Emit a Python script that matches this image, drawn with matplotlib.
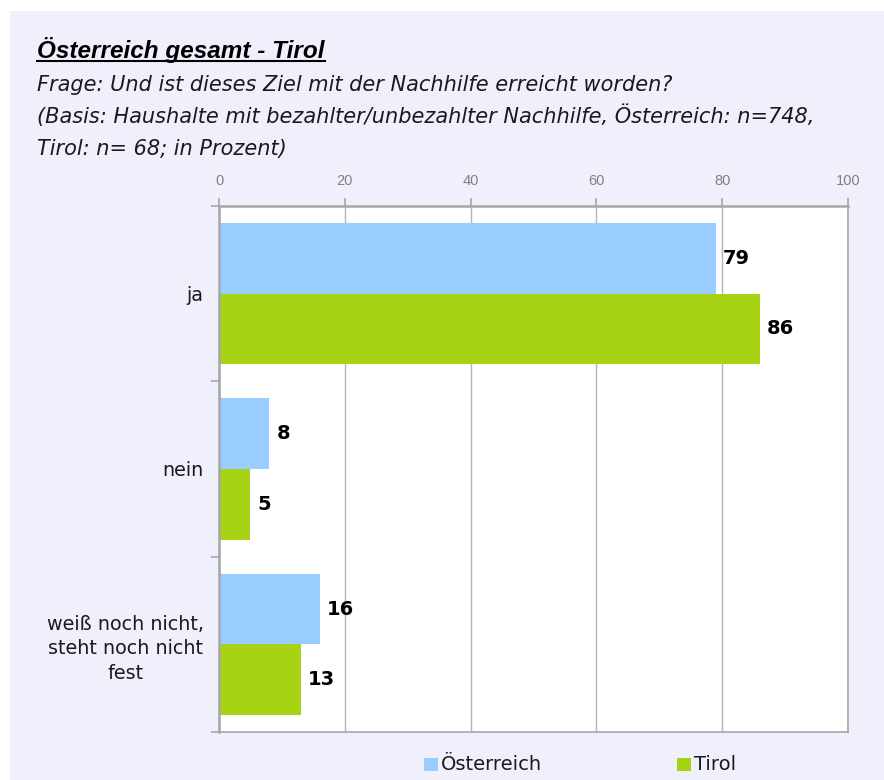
import matplotlib
matplotlib.use("Agg")
import matplotlib.pyplot as plt
from matplotlib.patches import Rectangle
from matplotlib.lines import Line2D
import numpy as np

categories = ["ja", "nein", "weiß noch nicht,\nsteht noch nicht\nfest"]
oesterreich = [79, 8, 16]
tirol = [86, 5, 13]
series_names = ["Österreich", "Tirol"]
xticks = [0, 20, 40, 60, 80, 100]

title = "Österreich gesamt - Tirol"
subtitle = ["Frage: Und ist dieses Ziel mit der Nachhilfe erreicht worden?",
            "(Basis: Haushalte mit bezahlter/unbezahlter Nachhilfe, Österreich: n=748,",
            "Tirol: n= 68; in Prozent)"]

c_blue = "#99ccff"
c_green = "#a6d414"
bg = "#f0f0fd"
gray = "#a6a6a6"

W, H = 884, 780
fig = plt.figure(figsize=(W / 100, H / 100), dpi=100, facecolor="white")
fig.add_artist(Rectangle((10 / W, 0), 1, (H - 11) / H, transform=fig.transFigure,
                         facecolor=bg, edgecolor="none", zorder=-10))

ax = fig.add_axes([219 / W, 1 - 732 / H, (848 - 219) / W, (732 - 206) / H])
ax.set_facecolor("white")

y = np.arange(len(categories))
h = 0.403
ax.barh(y - h / 2, oesterreich, height=h, color=c_blue, zorder=2)
ax.barh(y + h / 2, tirol, height=h, color=c_green, zorder=2)

for vals, off in ((oesterreich, -h / 2), (tirol, h / 2)):
    for yi, v in zip(y, vals):
        ax.annotate(str(v), (v, yi + off), xytext=(5, 0), textcoords="offset points",
                    ha="left", va="center", fontsize=14, fontweight="bold",
                    family="DejaVu Sans", color="black")

ax.set_xlim(0, 100)
ax.set_ylim(len(categories) - 0.5, -0.5)

ax.xaxis.tick_top()
ax.set_xticks(xticks)
ax.set_xticklabels([str(t) for t in xticks], fontsize=10.5,
                   family="Liberation Sans", color="#808080")
ax.tick_params(axis="x", direction="out", length=6, width=1.2, color=gray, pad=7)

ax.set_yticks(np.arange(len(categories) + 1) - 0.5)
ax.set_yticklabels([])
ax.tick_params(axis="y", which="major", direction="out", length=6, width=1.2, color=gray)
ax.set_yticks(y, minor=True)
ax.set_yticklabels(categories, minor=True, fontsize=13.8, family="DejaVu Sans",
                   color="#1a1a1a", multialignment="center", linespacing=1.35)
ax.tick_params(axis="y", which="minor", length=0, pad=11)

ax.grid(axis="x", color="#b4b4b4", linewidth=1.0, zorder=0)
ax.set_axisbelow(True)
for s in ("top", "left"):
    ax.spines[s].set_color(gray)
    ax.spines[s].set_linewidth(1.8)
for s in ("right", "bottom"):
    ax.spines[s].set_color(gray)
    ax.spines[s].set_linewidth(1.2)

# title and subtitle
t = fig.text(37 / W, 1 - 58 / H, title, fontsize=17.5, fontweight="bold", fontstyle="italic",
             family="Liberation Sans", ha="left", va="baseline", color="black")
base = [91, 123, 155]
for line, b in zip(subtitle, base):
    fig.text(37 / W, 1 - b / H, line, fontsize=15, fontstyle="italic",
             family="DejaVu Sans", ha="left", va="baseline", color="#1a1a1a")

fig.canvas.draw()
bb = t.get_window_extent()
uy = 1 - 61 / H
fig.add_artist(Line2D([bb.x0 / W, bb.x1 / W], [uy, uy], transform=fig.transFigure,
                      color="black", linewidth=1.5))

# legend
for (x0, tx), col, name in zip(((424, 441), (677, 694)), (c_blue, c_green), series_names):
    fig.add_artist(Rectangle((x0 / W, 1 - 771 / H), 14 / W, 13 / H, transform=fig.transFigure,
                             facecolor=col, edgecolor="none"))
    fig.text(tx / W, 1 - 770 / H, name, fontsize=14, family="DejaVu Sans",
             ha="left", va="baseline", color="#1a1a1a")

fig.savefig("out.png", dpi=100, facecolor="white")
